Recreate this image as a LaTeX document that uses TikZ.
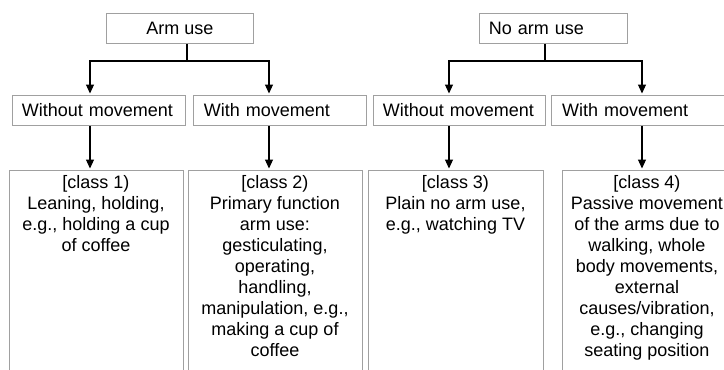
\documentclass[tikz,border=0pt]{standalone}
\usepackage{fontspec}
\setmainfont{Liberation Sans}
\usetikzlibrary{arrows.meta}
\definecolor{boxgray}{HTML}{A0A0A0}
\tikzset{
  x=1pt, y=-1pt,
  every node/.style={font=\fontsize{18}{21}\selectfont},
  hbox/.style={draw=boxgray, line width=0.9pt, inner sep=0pt, minimum height=30pt, anchor=north west},
  cbox/.style={draw=boxgray, line width=0.9pt, anchor=north, minimum height=210pt, inner sep=0pt},
  ctext/.style={anchor=north, inner sep=0pt, align=center},
  conn/.style={line width=1.1pt, black},
  arr/.style={conn, -{Triangle[width=8pt,length=9pt]}, shorten >=1.5pt},
}
\begin{document}
\begin{tikzpicture}
\clip (0,0) rectangle (724,370);
\useasboundingbox (0,0) rectangle (724,370);
% top level
\node[hbox, minimum width=147pt] (arm) at (106,13) {};
\node (armt) at (arm.center) {Arm use};
\node[hbox, minimum width=148pt, text width=129pt, align=left, inner xsep=9.5pt] (noarm) at (479,13) {No arm use};
% second level
\node[hbox, minimum width=173pt, text width=154pt, align=left, inner xsep=9.5pt] (wo1) at (12,95) {Without movement};
\node[hbox, minimum width=171pt, text width=152pt, align=left, inner xsep=10.5pt] (wm1) at (193,95) {With movement};
\node[hbox, minimum width=172pt, text width=153pt, align=left, inner xsep=9.5pt] (wo2) at (373,95) {Without movement};
\node[hbox, minimum width=172.5pt, text width=151pt, align=left, inner xsep=10.5pt] (wm2) at (551,95) {With movement};
% third level
\node[cbox, minimum width=174pt] (cl1) at (96,170) {};
\node[ctext] (cl1t) at ([yshift=-5pt]cl1.north) {[class 1)\\Leaning, holding,\\e.g., holding a cup\\of coffee};
\node[cbox, minimum width=174pt] (cl2) at (275,170) {};
\node[ctext] (cl2t) at ([yshift=-5pt]cl2.north) {[class 2)\\Primary function\\arm use:\\gesticulating,\\operating,\\handling,\\manipulation, e.g.,\\making a cup of\\coffee};
\node[cbox, minimum width=175pt] (cl3) at (455.5,170) {};
\node[ctext] (cl3t) at ([yshift=-5pt]cl3.north) {[class 3)\\Plain no arm use,\\e.g., watching TV};
\node[cbox, minimum width=170pt] (cl4) at (647,170) {};
\node[ctext] (cl4t) at ([yshift=-5pt]cl4.north) {[class 4)\\Passive movement\\of the arms due to\\walking, whole\\body movements,\\external\\causes/vibration,\\e.g., changing\\seating position};
% connector x positions
\coordinate (c1) at (90,0);
\coordinate (c2) at (269,0);
\coordinate (c3) at (449,0);
\coordinate (c4) at (642,0);
\coordinate (j1) at (187,61);
\coordinate (j2) at (545,61);
% connectors
\draw[conn] (j1 |- arm.south) -- (j1);
\draw[arr] (j1) -| (c1 |- wo1.north);
\draw[arr] (j1) -| (c2 |- wm1.north);
\draw[conn] (j2 |- noarm.south) -- (j2);
\draw[arr] (j2) -| (c3 |- wo2.north);
\draw[arr] (j2) -| (c4 |- wm2.north);
\draw[arr] (c1 |- wo1.south) -- (c1 |- cl1.north);
\draw[arr] (c2 |- wm1.south) -- (c2 |- cl2.north);
\draw[arr] (c3 |- wo2.south) -- (c3 |- cl3.north);
\draw[arr] (c4 |- wm2.south) -- (c4 |- cl4.north);
\end{tikzpicture}
\end{document}
